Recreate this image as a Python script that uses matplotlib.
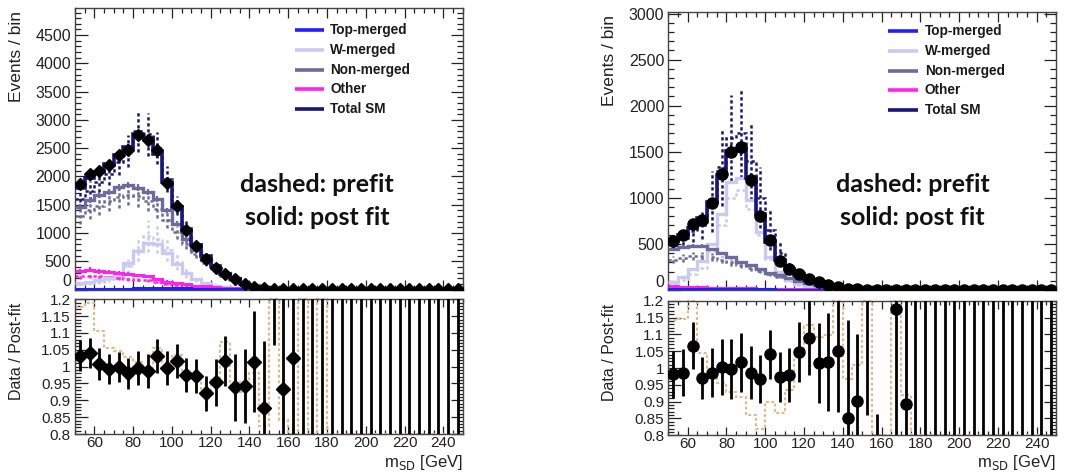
import numpy as np
import matplotlib
matplotlib.use("Agg")
import matplotlib.pyplot as plt
from matplotlib.ticker import MultipleLocator, FuncFormatter

plt.rcParams['font.family'] = ['Liberation Sans', 'DejaVu Sans']

# ---------------- binning: m_SD from 50 to 250 GeV in 5 GeV bins ----------------
edges = np.arange(50, 255, 5)
centers = 0.5 * (edges[:-1] + edges[1:])
nan = np.nan

# ================= left region =================
data_L = [1863, 2052, 2099, 2211, 2376, 2465, 2742, 2642, 2465, 1887, 1480, 1050, 772, 548, 389, 283, 177, 94, 47, 18,
          8, 4, 3, 2, 1, 1, 1, 1, 1, 1, 1, 1, 1, 1, 1, 1, 1, 1, 1, 1]
total_post_L = [1803, 1973, 2082, 2227, 2381, 2515, 2756, 2677, 2389, 1897, 1455, 1077, 794, 595, 408, 278, 188, 100, 46, 21,
                6, 4, 3, 2, 1, 1, 1, 1, 1, 1, 1, 1, 1, 1, 1, 1, 1, 1, 1, 1]
total_post_err_L = [40, 45, 45, 50, 50, 55, 60, 60, 55, 45, 35, 28, 22, 17, 13, 10, 8, 5, 3, 2,
                    1, 1, 1, 1, 0, 0, 0, 0, 0, 0, 0, 0, 0, 0, 0, 0, 0, 0, 0, 0]
nonm_post_L = [1460, 1580, 1670, 1730, 1810, 1850, 1800, 1720, 1600, 1400, 1160, 900, 700, 520, 400, 285, 195, 120, 75, 45,
               25, 15, 10, 6, 4, 3, 2, 1, 1, 1, 0, 0, 0, 0, 0, 0, 0, 0, 0, 0]
nonm_post_err_L = [50, 55, 55, 55, 60, 60, 60, 55, 55, 50, 45, 35, 30, 25, 20, 15, 12, 8, 6, 4,
                   2, 2, 1, 1, 0, 0, 0, 0, 0, 0, 0, 0, 0, 0, 0, 0, 0, 0, 0, 0]
w_post_L = [110, 130, 160, 200, 280, 460, 680, 830, 800, 640, 450, 290, 180, 110, 70, 45, 28, 18, 10, 6,
            3, 2, 1, 1, 0, 0, 0, 0, 0, 0, 0, 0, 0, 0, 0, 0, 0, 0, 0, 0]
other_post_L = [330, 350, 320, 310, 300, 270, 250, 230, 180, 140, 110, 90, 70, 55, 40, 30, 22, 16, 12, 9,
                7, 5, 4, 3, 2, 2, 1, 1, 1, 1, 0, 0, 0, 0, 0, 0, 0, 0, 0, 0]
other_post_err_L = [40, 40, 38, 36, 35, 32, 30, 28, 24, 20, 17, 14, 12, 10, 8, 6, 5, 4, 3, 2,
                    2, 1, 1, 1, 0, 0, 0, 0, 0, 0, 0, 0, 0, 0, 0, 0, 0, 0, 0, 0]
top_post_L = [15, 15, 15, 15, 15, 15, 20, 20, 20, 20, 20, 18, 15, 12, 10, 8, 6, 5, 4, 3,
              2, 1, 1, 1, 0, 0, 0, 0, 0, 0, 0, 0, 0, 0, 0, 0, 0, 0, 0, 0]

total_pre_L = [1600, 1750, 1900, 2050, 2250, 2450, 2800, 2750, 2500, 1950, 1480, 1080, 800, 570, 400, 270, 180, 100, 50, 22,
               10, 6, 4, 3, 2, 1, 1, 1, 1, 1, 1, 1, 1, 1, 1, 1, 1, 1, 1, 1]
total_pre_err_L = [150, 170, 180, 200, 220, 280, 370, 380, 280, 230, 170, 130, 100, 80, 60, 45, 30, 20, 10, 6,
                   3, 2, 1, 1, 0, 0, 0, 0, 0, 0, 0, 0, 0, 0, 0, 0, 0, 0, 0, 0]
nonm_pre_L = [1300, 1400, 1480, 1560, 1640, 1680, 1650, 1560, 1420, 1230, 1010, 800, 620, 460, 340, 240, 160, 100, 60, 35,
              20, 12, 8, 5, 3, 2, 1, 0, 0, 0, 0, 0, 0, 0, 0, 0, 0, 0, 0, 0]
nonm_pre_err_L = [150, 160, 170, 180, 190, 190, 190, 180, 160, 140, 115, 90, 70, 52, 38, 27, 18, 11, 7, 4,
                  2, 1, 1, 0, 0, 0, 0, 0, 0, 0, 0, 0, 0, 0, 0, 0, 0, 0, 0, 0]
w_pre_L = [90, 110, 140, 180, 250, 420, 700, 950, 900, 700, 480, 300, 180, 110, 70, 45, 28, 18, 10, 6,
           3, 2, 1, 0, 0, 0, 0, 0, 0, 0, 0, 0, 0, 0, 0, 0, 0, 0, 0, 0]
w_pre_err_L = [25, 30, 40, 50, 70, 120, 200, 280, 260, 200, 140, 90, 55, 33, 21, 14, 8, 5, 3, 2,
               1, 0, 0, 0, 0, 0, 0, 0, 0, 0, 0, 0, 0, 0, 0, 0, 0, 0, 0, 0]
other_pre_L = [230, 240, 230, 220, 210, 190, 175, 160, 130, 100, 85, 70, 55, 45, 35, 25, 20, 15, 10, 8,
               6, 5, 4, 3, 2, 1, 0, 0, 0, 0, 0, 0, 0, 0, 0, 0, 0, 0, 0, 0]
other_pre_err_L = [40, 40, 40, 38, 36, 33, 30, 28, 23, 18, 15, 12, 10, 8, 6, 5, 4, 3, 2, 2,
                   1, 0, 0, 0, 0, 0, 0, 0, 0, 0, 0, 0, 0, 0, 0, 0, 0, 0, 0, 0]
top_pre_L = [12, 12, 12, 12, 12, 12, 16, 16, 16, 16, 16, 14, 12, 10, 8, 6, 5, 4, 3, 2,
             1, 1, 0, 0, 0, 0, 0, 0, 0, 0, 0, 0, 0, 0, 0, 0, 0, 0, 0, 0]

ratio_L = [1.033, 1.040, 1.008, 0.993, 0.998, 0.980, 0.995, 0.987, 1.032, 0.995, 1.017, 0.975, 0.972, 0.921, 0.953, 1.017,
           0.939, 0.943, 1.015, 0.876, 1.40, 0.934, 1.027,
           0, 0, 0, 0, 0, 0, 0, 0, 0, 0, 0, 0, 0, 0, 0, 0, 0]
ratio_lo_L = [0.045, 0.045, 0.048, 0.045, 0.045, 0.047, 0.05, 0.05, 0.05, 0.05, 0.05, 0.05, 0.05, 0.052, 0.07, 0.075,
              0.10, 0.11, 0.15, 0.2, 0.335, 0.4, 0.4,
              0, 0, 0, 0, 0, 0, 0, 0, 0, 0, 0, 0, 0, 0, 0, 0, 0]
ratio_hi_L = [0.045, 0.045, 0.048, 0.045, 0.045, 0.047, 0.05, 0.05, 0.05, 0.05, 0.05, 0.05, 0.05, 0.052, 0.07, 0.075,
              0.10, 0.11, 0.15, 0.2, 1.0, 0.5, 0.5,
              3, 3, 3, 3, 3, 3, 3, 3, 3, 3, 3, 3, 3, 3, 3, 3, 3]
prefit_ratio_L = [1.178, 1.188, 1.106, 1.054, 1.045, 1.030, 1.015, 0.990, 1.054, 1.015, 1.035, 0.980, 0.970, 0.916,
                  0.960, 1.074, 0.955, 0.926, 0.980, 0.825, 1.5, 0.843, 0.6, 1.5, 0.6, 1.5,
                  0.6, 0.6, 0.6, 0.6, 0.6, 0.6, 0.6, 0.6, 0.6, 0.6, 0.6, 0.6, 0.6, 0.6]

# ================= right region =================
data_R = [535, 593, 716, 759, 940, 1258, 1500, 1554, 1193, 803, 542, 318, 224, 174, 123, 87, 51, 28, 15, 8,
          5, 3, 2, 2, 1, 1, 1, 1, 1, 1, 1, 1, 1, 1, 1, 1, 1, 1, 1, 1]
total_post_R = [545, 601, 672, 782, 953, 1253, 1505, 1528, 1210, 830, 521, 326, 229, 166, 113, 86, 50, 27, 18, 9,
                5, 3, 2, 2, 1, 1, 1, 1, 1, 1, 1, 1, 1, 1, 1, 1, 1, 1, 1, 1]
total_post_err_R = [25, 25, 28, 32, 40, 55, 70, 72, 55, 38, 25, 16, 11, 8, 6, 5, 3, 2, 1, 1,
                    0, 0, 0, 0, 0, 0, 0, 0, 0, 0, 0, 0, 0, 0, 0, 0, 0, 0, 0, 0]
nonm_post_R = [440, 465, 477, 477, 441, 398, 354, 307, 271, 224, 188, 159, 130, 101, 72, 51, 36, 25, 15, 10,
               6, 4, 3, 2, 1, 1, 0, 0, 0, 0, 0, 0, 0, 0, 0, 0, 0, 0, 0, 0]
nonm_post_err_R = [20, 20, 20, 20, 18, 17, 15, 13, 12, 10, 9, 8, 7, 6, 5, 4, 3, 2, 1, 1,
                   0, 0, 0, 0, 0, 0, 0, 0, 0, 0, 0, 0, 0, 0, 0, 0, 0, 0, 0, 0]
w_post_R = [90, 145, 230, 310, 500, 830, 1170, 1210, 975, 630, 360, 200, 110, 60, 35, 20, 12, 7, 4, 2,
            1, 0, 0, 0, 0, 0, 0, 0, 0, 0, 0, 0, 0, 0, 0, 0, 0, 0, 0, 0]
other_post_R = [45, 35, 30, 28, 25, 23, 21, 19, 17, 15, 13, 11, 10, 9, 8, 7, 6, 5, 4, 3,
                2, 2, 1, 1, 0, 0, 0, 0, 0, 0, 0, 0, 0, 0, 0, 0, 0, 0, 0, 0]
other_post_err_R = [8, 6, 5, 5, 4, 4, 4, 3, 3, 3, 2, 2, 2, 2, 1, 1, 1, 1, 1, 0,
                    0, 0, 0, 0, 0, 0, 0, 0, 0, 0, 0, 0, 0, 0, 0, 0, 0, 0, 0, 0]
top_post_R = [10, 10, 10, 10, 10, 12, 12, 12, 10, 8, 6, 5, 4, 3, 2, 2, 1, 1, 0, 0,
              0, 0, 0, 0, 0, 0, 0, 0, 0, 0, 0, 0, 0, 0, 0, 0, 0, 0, 0, 0]

total_pre_R = [500, 560, 640, 700, 960, 1330, 1650, 1700, 1400, 1000, 650, 400, 260, 180, 120, 85, 50, 28, 15, 8,
               4, 3, 2, 1, 1, 1, 1, 1, 1, 1, 1, 1, 1, 1, 1, 1, 1, 1, 1, 1]
total_pre_err_R = [60, 70, 120, 150, 330, 420, 470, 490, 420, 330, 220, 120, 70, 40, 28, 20, 12, 8, 5, 3,
                   2, 1, 1, 0, 0, 0, 0, 0, 0, 0, 0, 0, 0, 0, 0, 0, 0, 0, 0, 0]
nonm_pre_R = [330, 350, 365, 370, 355, 330, 300, 270, 240, 205, 175, 145, 118, 92, 68, 48, 33, 22, 14, 9,
              6, 4, 3, 2, 1, 0, 0, 0, 0, 0, 0, 0, 0, 0, 0, 0, 0, 0, 0, 0]
nonm_pre_err_R = [40, 42, 44, 44, 42, 40, 36, 32, 29, 25, 21, 17, 14, 11, 8, 6, 4, 3, 2, 1,
                  1, 0, 0, 0, 0, 0, 0, 0, 0, 0, 0, 0, 0, 0, 0, 0, 0, 0, 0, 0]
w_pre_R = [60, 110, 170, 240, 420, 700, 1000, 1080, 880, 600, 340, 190, 100, 55, 30, 18, 10, 6, 3, 2,
           1, 0, 0, 0, 0, 0, 0, 0, 0, 0, 0, 0, 0, 0, 0, 0, 0, 0, 0, 0]
w_pre_err_R = [20, 35, 55, 75, 130, 220, 320, 340, 280, 190, 110, 60, 32, 18, 10, 6, 3, 2, 1, 1,
               0, 0, 0, 0, 0, 0, 0, 0, 0, 0, 0, 0, 0, 0, 0, 0, 0, 0, 0, 0]
other_pre_R = [30, 26, 23, 21, 19, 17, 15, 14, 12, 11, 10, 9, 8, 7, 6, 5, 4, 3, 2, 2,
               1, 0, 0, 0, 0, 0, 0, 0, 0, 0, 0, 0, 0, 0, 0, 0, 0, 0, 0, 0]
top_pre_R = [8, 8, 8, 8, 8, 10, 10, 10, 8, 6, 5, 4, 3, 2, 2, 1, 1, 0, 0, 0,
             0, 0, 0, 0, 0, 0, 0, 0, 0, 0, 0, 0, 0, 0, 0, 0, 0, 0, 0, 0]

ratio_R = [0.982, 0.986, 1.066, 0.971, 0.986, 1.004, 0.997, 1.017, 0.986, 0.967, 1.041, 0.974, 0.978, 1.047, 1.090,
           1.015, 1.017, 1.050, 0.852, 0.902, 1.30, 0.50, nan, 1.175, 0.893,
           0, 0, 0, 0, 0, 0, 0, 0, 0, 0, 0, 0, 0, 0, 0]
ratio_lo_R = [0.07, 0.07, 0.07, 0.063, 0.072, 0.083, 0.088, 0.088, 0.078, 0.072, 0.073, 0.074, 0.08, 0.09, 0.11,
              0.12, 0.145, 0.18, 0.3, 0.25, 0.44, 0.4, nan, 0.6, 0.4,
              0, 0, 0, 0, 0, 0, 0, 0, 0, 0, 0, 0, 0, 0, 0]
ratio_hi_R = [0.07, 0.07, 0.07, 0.063, 0.072, 0.083, 0.088, 0.088, 0.078, 0.072, 0.073, 0.074, 0.08, 0.09, 0.11,
              0.12, 0.145, 0.18, 0.29, 0.2, 1.0, 0.362, nan, 0.5, 0.5,
              3, 3, 3, 3, 3, 3, 3, 3, 3, 3, 3, 3, 3, 3, 3]
prefit_ratio_R = [1.142, 1.145, 1.5, 1.044, 0.994, 0.955, 0.930, 0.915, 0.860, 0.820, 0.900, 0.865, 0.935, 1.033,
                  1.128, 1.093, 1.098, 1.5, 0.966, 1.010, 1.5, 0.6, 0.6, 1.5, 0.920,
                  0.6, 0.6, 0.6, 0.6, 0.6, 0.6, 0.6, 0.6, 0.6, 0.6, 0.6, 0.6, 0.6, 0.6, 0.6]

legend_labels = ["Top-merged", "W-merged", "Non-merged", "Other", "Total SM"]

# ---------------- styling ----------------
C_TOP = '#1f1fff'
C_W = '#c9c9f2'
C_NONM = '#6b6b9c'
C_OTHER = '#ff22ee'
C_TOTAL = '#15157c'
C_PRERATIO = '#e2b98a'
DOT = (0, (1.3, 1.1))
TICK_COLOR = '#222222'

W, H = 1078, 474
fig = plt.figure(figsize=(W / 100, H / 100), dpi=100)
fig.patch.set_facecolor('white')


def px_axes(x0, x1, y0, y1):
    return fig.add_axes([x0 / W, 1 - y1 / H, (x1 - x0) / W, (y1 - y0) / H])


def style_axes(ax, ymaj, ymin, ylen=(9, 4.5), xlen=(7, 3.5), fs=11.5):
    ax.set_xlim(50, 250)
    ax.xaxis.set_major_locator(MultipleLocator(20))
    ax.xaxis.set_minor_locator(MultipleLocator(5))
    ax.yaxis.set_major_locator(MultipleLocator(ymaj))
    ax.yaxis.set_minor_locator(MultipleLocator(ymin))
    ax.tick_params(axis='both', which='both', direction='in', top=True, right=True,
                   colors=TICK_COLOR, labelsize=fs, width=0.9)
    ax.tick_params(axis='y', which='major', length=ylen[0], pad=3)
    ax.tick_params(axis='y', which='minor', length=ylen[1])
    ax.tick_params(axis='x', which='major', length=xlen[0], pad=1.5)
    ax.tick_params(axis='x', which='minor', length=xlen[1])
    for s in ax.spines.values():
        s.set_color('#444444')
        s.set_linewidth(1.0)


def draw_main(ax, comps_pre, comps_post, data, marker, msize, ymax):
    # prefit: dotted step histograms with dotted uncertainty bars
    for vals, err, color in comps_pre:
        v = np.asarray(vals, float)
        ax.stairs(v, edges, baseline=None, color=color, lw=1.8, ls=DOT, zorder=2)
        if err is not None:
            e = np.asarray(err, float)
            ax.vlines(centers, v - e, v + e, colors=color, lw=1.8, linestyles=DOT, zorder=2)
    # post-fit: solid step histograms
    for vals, err, color, lw in comps_post:
        v = np.asarray(vals, float)
        ax.stairs(v, edges, baseline=None, color=color, lw=lw, zorder=3)
        if err is not None:
            e = np.asarray(err, float)
            ax.vlines(centers, v - e, v + e, colors=color, lw=1.6, zorder=3)
    d = np.asarray(data, float)
    ax.errorbar(centers, d, yerr=np.sqrt(d), fmt=marker, color='black', ms=msize,
                elinewidth=1.2, capsize=0, zorder=5)
    ax.set_ylim(0, ymax)
    style_axes(ax, 500, 100)
    ax.tick_params(axis='x', labelbottom=False)


def draw_ratio(ax, ratio, lo, hi, pre_ratio, marker, msize):
    ylo, yhi = 0.8, 1.2
    pr = np.clip(np.asarray(pre_ratio, float), ylo, yhi)
    ax.stairs(pr, edges, baseline=None, color=C_PRERATIO, lw=1.6, ls=DOT, zorder=2, clip_on=False)
    r = np.asarray(ratio, float)
    ax.vlines(centers, r - np.asarray(lo, float), r + np.asarray(hi, float), colors='black', lw=2.0, zorder=3)
    ax.plot(centers, r, marker, color='black', ms=msize, zorder=4, ls='none')
    ax.set_ylim(ylo, yhi)
    style_axes(ax, 0.05, 0.01, ylen=(9, 4.5), xlen=(6, 3), fs=11)
    ax.yaxis.set_major_formatter(FuncFormatter(lambda v, p: f"{v:g}"))


def lift_zero_label(ax_top):
    # the main pad's "0" sits just above the pad boundary, clear of the ratio pad's "1.2"
    fig.canvas.draw()
    for lab in ax_top.get_yticklabels():
        if lab.get_text() == '0':
            lab.set_verticalalignment('bottom')


def draw_legend(ax, lx0, lx1, tx, ys):
    colors = [C_TOP, C_W, C_NONM, C_OTHER, C_TOTAL]
    for lab, col, y in zip(legend_labels, colors, ys):
        ax.plot([lx0, lx1], [y, y], color=col, lw=2.6, transform=ax.transAxes, solid_capstyle='butt')
        ax.text(tx, y, lab, transform=ax.transAxes, ha='left', va='center', fontsize=9.8,
                fontweight='bold', color='#1a1a1a')


def panel(x0, x1, ytop, ymid, ybot_top, ybot, ymax, data, total_post, total_post_err, nonm_post, nonm_post_err,
          w_post, other_post, other_post_err, top_post, total_pre, total_pre_err, nonm_pre, nonm_pre_err,
          w_pre, w_pre_err, other_pre, other_pre_err, top_pre, ratio, lo, hi, pre_ratio, marker, msize, rmsize,
          ylab_x, leg, txt_xy):
    ax = px_axes(x0, x1, ytop, ymid)
    axr = px_axes(x0, x1, ybot_top, ybot)
    comps_pre = [(w_pre, w_pre_err, C_W), (other_pre, other_pre_err, C_OTHER), (top_pre, None, C_TOP),
                 (nonm_pre, nonm_pre_err, C_NONM), (total_pre, total_pre_err, C_TOTAL)]
    comps_post = [(w_post, None, C_W, 2.4), (other_post, other_post_err, C_OTHER, 2.2),
                  (top_post, None, C_TOP, 2.2), (nonm_post, nonm_post_err, C_NONM, 2.4),
                  (total_post, total_post_err, C_TOTAL, 2.6)]
    draw_main(ax, comps_pre, comps_post, data, marker, msize, ymax)
    draw_ratio(axr, ratio, lo, hi, pre_ratio, marker, rmsize)
    lift_zero_label(ax)
    draw_legend(ax, *leg)
    fig.text(ylab_x / W, 1 - (ytop + 3) / H, "Events / bin", rotation=90, ha='center', va='top',
             fontsize=12.5, color='#222222')
    fig.text(ylab_x / W, 1 - (ybot_top + 3) / H, "Data / Post-fit", rotation=90, ha='center', va='top',
             fontsize=11.5, color='#222222')
    fig.text(x1 / W, 1 - 463 / H, r"m$_{\mathrm{SD}}$ [GeV]", ha='right', va='center', fontsize=12,
             color='#222222')
    tx, ty1, ty2 = txt_xy
    for yy, s in ((ty1, "dashed: prefit"), (ty2, "solid: post fit")):
        fig.text(tx / W, 1 - yy / H, s, ha='center', va='center', fontsize=18,
                 family=['Lato', 'DejaVu Sans'], fontweight='bold', color='#111111')


panel(75, 462.7, 8, 289.5, 299.3, 434, 4980,
      data_L, total_post_L, total_post_err_L, nonm_post_L, nonm_post_err_L, w_post_L, other_post_L,
      other_post_err_L, top_post_L, total_pre_L, total_pre_err_L, nonm_pre_L, nonm_pre_err_L, w_pre_L,
      w_pre_err_L, other_pre_L, other_pre_err_L, top_pre_L, ratio_L, ratio_lo_L, ratio_hi_L, prefit_ratio_L,
      'D', 6.5, 7, 17, (0.567, 0.642, 0.658, [0.922, 0.851, 0.780, 0.712, 0.641]), (317, 185, 218))

panel(668.3, 1056, 11.7, 290, 300.7, 435.3, 3020,
      data_R, total_post_R, total_post_err_R, nonm_post_R, nonm_post_err_R, w_post_R, other_post_R,
      other_post_err_R, top_post_R, total_pre_R, total_pre_err_R, nonm_pre_R, nonm_pre_err_R, w_pre_R,
      None, other_pre_R, None, top_pre_R, ratio_R, ratio_lo_R, ratio_hi_R, prefit_ratio_R,
      'o', 8, 8, 609, (0.567, 0.644, 0.662, [0.931, 0.859, 0.787, 0.719, 0.647]), (912.5, 185, 218))

fig.savefig("out.png", dpi=100, facecolor='white')
